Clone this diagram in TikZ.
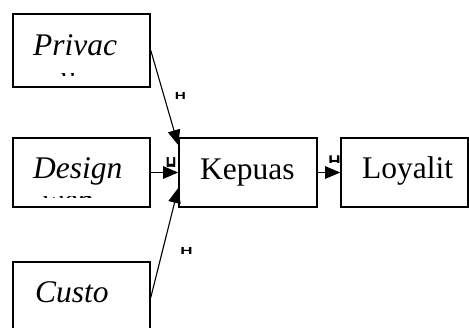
\documentclass[tikz,border=0pt]{standalone}
\usepackage{fontspec}
\setmainfont{Liberation Serif}
\newfontfamily\marksans{Liberation Sans}
\usetikzlibrary{arrows.meta}
\begin{document}
\begin{tikzpicture}[x=1pt,y=-1pt,
  box/.style={draw, line width=1.6pt, inner sep=0pt, minimum width=137pt, minimum height=69pt},
  lbl/.style={anchor=base west, inner sep=0pt, font=\fontsize{31.5}{32}\selectfont},
  ilbl/.style={anchor=base west, inner sep=0pt, font=\fontsize{31.5}{32}\selectfont\itshape},
  conn/.style={line width=1.1pt, -{Triangle[length=15pt,width=12.5pt]}},
  hmark/.style={inner sep=0pt, font=\marksans\bfseries\fontsize{17}{17}\selectfont}
]
\useasboundingbox (0,0) rectangle (469,327);
\clip (0,0) rectangle (469,327);

% boxes
\node[box, minimum height=73pt] (pri) at (81.5,50.5) {};
\node[box] (des) at (81.5,172.5) {};
\node[box, minimum height=73pt] (cus) at (81.5,298.5) {};
\node[box, minimum width=138pt] (kep) at (248,172.5) {};
\node[box, minimum width=127pt] (loy) at (404.5,172.5) {};

% labels
\node[ilbl] (pritxt) at (33,55) {Privac};
\node[ilbl] (destxt) at (33,178.5) {Design};
\node[ilbl] (custxt) at (35,302) {Custo};
\node[lbl] (keptxt) at (200,179) {Kepuas};
\node[lbl] (loytxt) at (362,178.5) {Loyalit};

% clipped second lines
\begin{scope}
  \clip (13,73) rectangle (150,75.5);
  \node[ilbl] (pri2) at (60,87) {y};
\end{scope}
\begin{scope}
  \clip (13,196.2) rectangle (150,197.8);
  \node[ilbl] (des2) at (42,210) {web};
\end{scope}

% connectors
\draw[conn] (pri.east) -- ([yshift=27.5pt]kep.west);
\draw[conn] (des.east) -- (kep.west);
\draw[conn] ([yshift=1pt]cus.east) -- ([yshift=-15.5pt]kep.west);
\draw[conn] (kep.east) -- (loy.west);

% small marks
\node[hmark] (h1) at (180.5,95.5) {\scalebox{0.9}[0.6]{H}};
\node[hmark] (h2) at (186.5,251) {\scalebox{1.0}[0.6]{H}};
\begin{scope}
  \clip (160,150) rectangle (182,166.8);
  \node[hmark] (h3) at (171,166) {\scalebox{0.85}[1.45]{H}};
\end{scope}
\begin{scope}
  \clip (322,150) rectangle (340.5,162.6);
  \node[hmark] (h4) at (334.5,162) {\scalebox{1.0}[1.0]{H}};
\end{scope}
\end{tikzpicture}
\end{document}
